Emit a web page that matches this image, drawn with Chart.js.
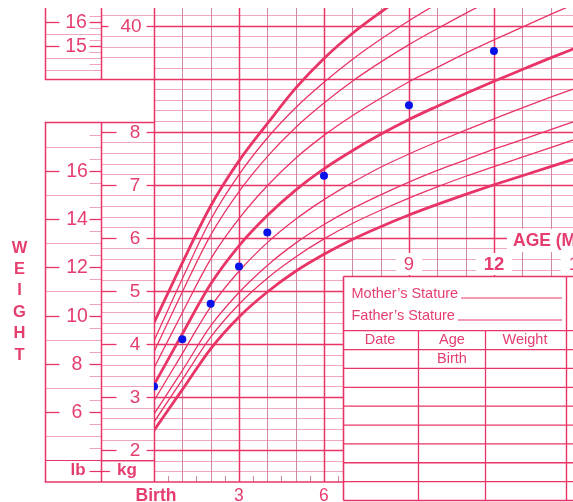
<!DOCTYPE html>
<html>
<head>
<meta charset="utf-8">
<title>Weight-for-age percentiles</title>
<script src="https://cdn.jsdelivr.net/npm/chart.js@4.4.1/dist/chart.umd.min.js"></script>
<style>
html,body{margin:0;padding:0;background:#ffffff;overflow:hidden;}
#wrap{width:573px;height:502px;position:relative;}
canvas{display:block;}
</style>
</head>
<body>
<div id="wrap"><canvas id="chart" width="573" height="502"></canvas></div>
<script>
// ---------------- data ----------------
const ageMonths = [0,1,2,3,4,5,6,7,8,9,10,11,12,13,14,15];
const p2  = [2.37,3.14,3.91,4.51,4.98,5.37,5.69,5.97,6.21,6.43,6.63,6.82,7.00,7.17,7.34,7.51];
const p5  = [2.53,3.33,4.13,4.75,5.24,5.64,5.98,6.27,6.52,6.75,6.96,7.16,7.34,7.52,7.70,7.88];
const p10 = [2.68,3.50,4.34,4.97,5.48,5.90,6.25,6.55,6.81,7.05,7.27,7.47,7.67,7.85,8.04,8.22];
const p25 = [2.93,3.82,4.70,5.37,5.91,6.35,6.72,7.04,7.33,7.58,7.81,8.03,8.24,8.45,8.65,8.84];
const p50 = [3.23,4.19,5.13,5.85,6.42,6.90,7.30,7.64,7.95,8.23,8.48,8.72,8.95,9.17,9.39,9.60];
const p75 = [3.55,4.59,5.60,6.36,6.98,7.50,7.93,8.30,8.63,8.94,9.21,9.48,9.73,9.97,10.21,10.44];
const p90 = [3.85,4.98,6.05,6.87,7.53,8.08,8.54,8.95,9.31,9.64,9.94,10.23,10.50,10.76,11.02,11.28];
const p95 = [4.06,5.23,6.34,7.19,7.88,8.45,8.93,9.36,9.74,10.09,10.41,10.71,11.00,11.28,11.55,11.81];
const p98 = [4.40,5.53,6.60,7.45,8.15,8.82,9.38,9.85,10.25,10.62,10.96,11.28,11.59,11.89,12.18,12.46];
const childAge    = [0,1,2,3,4,6,9,12];
const childWeight = [3.20,4.09,4.76,5.46,6.10,7.17,8.50,9.52];

const kgTickLabels = [2,3,4,5,6,7,8];
const lbTickLabels = [6,8,10,12,14,16];
const cmTickLabels = [40];
const inTickLabels = [15,16];
const bottomAgeMonths = [0,3,6];
const bottomAgeLabels = ['Birth','3','6'];
const midAgeMonths = [9,12,15];
const midAgeLabels = ['9','12','15'];
const axisLetters = ['W','E','I','G','H','T'];
const ageTitle = 'AGE (MONTHS)';
const tableHeaders = ['Date','Age','Weight'];
const tableFirstRow = ['','Birth',''];
const statureLabels = ['Mother\u2019s Stature','Father\u2019s Stature'];

// ---------------- style ----------------
const PINK = 'rgb(232,52,102)';
const PINK_TEXT = 'rgb(229,62,110)';
const LIGHT = 'rgb(240,166,188)';
const MAUVE = 'rgb(208,136,164)';
const FONT = '"Liberation Sans", Arial, Helvetica, sans-serif';

function seg(ctx, x1, y1, x2, y2, color, w) {
  ctx.beginPath();
  ctx.strokeStyle = color;
  ctx.lineWidth = w;
  ctx.moveTo(x1, y1);
  ctx.lineTo(x2, y2);
  ctx.stroke();
}
function txt(ctx, s, x, y, size, bold, align, color) {
  ctx.font = (bold ? 'bold ' : '') + size + 'px ' + FONT;
  ctx.textAlign = align || 'center';
  ctx.textBaseline = 'middle';
  ctx.fillStyle = color || PINK_TEXT;
  ctx.fillText(s, x, y);
  return ctx.measureText(s).width;
}
const hp = v => Math.round(v) + 0.5;

const gridPlugin = {
  id: 'gridPlugin',
  beforeDraw(chart) {
    const ctx = chart.ctx;
    ctx.save();
    ctx.fillStyle = '#ffffff';
    ctx.fillRect(0, 0, chart.width, chart.height);
    ctx.restore();
  },
  beforeDatasetsDraw(chart) {
    const ctx = chart.ctx;
    const {left, right, top, bottom} = chart.chartArea;
    const xs = chart.scales.x, ys = chart.scales.y;
    ctx.save();
    for (let i = 8; i <= 51; i++) {
      if (i % 5 === 0) continue;
      const y = hp(ys.getPixelForValue(i / 5));
      seg(ctx, left, y, right, y, LIGHT, 1);
    }
    for (let m = 0; m <= Math.floor(xs.max); m++) {
      const x = hp(xs.getPixelForValue(m));
      const major = m % 3 === 0;
      seg(ctx, x, top, x, bottom, major ? PINK : MAUVE, major ? 1.5 : 1);
    }
    for (let m = 0; m < Math.floor(xs.max) + 1; m++) {
      const x = hp(xs.getPixelForValue(m + 0.5));
      if (x > right) break;
      seg(ctx, x, bottom - 6, x, bottom, MAUVE, 1);
    }
    for (let i = 10; i <= 50; i += 5) {
      const y = hp(ys.getPixelForValue(i / 5));
      seg(ctx, left, y, right, y, PINK, 1.4);
    }
    seg(ctx, left, hp(bottom) - 0.5, right, hp(bottom) - 0.5, PINK, 1.6);
    ctx.restore();
  },
  afterDraw(chart) {
    const ctx = chart.ctx;
    const {left, right, top, bottom} = chart.chartArea;
    const xs = chart.scales.x, ys = chart.scales.y;
    const yLb = chart.scales.yLb, yCm = chart.scales.yCm, yIn = chart.scales.yIn;
    const L0 = 45.5, L1 = 101.5, L2 = left;
    ctx.save();

    // ---------- upper (length) box ----------
    const upBot = hp(ys.getPixelForValue(9.0));
    for (let c = 37; c <= 41; c++) {
      const y = hp(yCm.getPixelForValue(c));
      if (cmTickLabels.includes(c)) {
        const w = txt(ctx, String(c), 131, y, 19, false);
        seg(ctx, L1, y, Math.min(116.5, 131 - w / 2 - 12), y, PINK, 1.3);
        seg(ctx, 146.5, y, L2, y, PINK, 1.3);
      } else {
        seg(ctx, L1, y, L2, y, LIGHT, 1);
      }
    }
    for (let q = 56; q <= 65; q++) {
      const v = q / 4;
      const y = hp(yIn.getPixelForValue(v));
      if (y >= upBot - 1) continue;
      if (q % 4 === 0 && inTickLabels.includes(v)) {
        txt(ctx, String(v), 76, y, 19.5, false);
        seg(ctx, L0, y, 59.5, y, PINK, 1.3);
        seg(ctx, 89.5, y, L1, y, PINK, 1.3);
      } else if (q % 2 === 0) {
        seg(ctx, L0, y, L1, y, LIGHT, 1);
      } else {
        seg(ctx, 89.5, y, L1, y, LIGHT, 1);
      }
    }
    seg(ctx, L0, top, L0, upBot, PINK, 1.5);
    seg(ctx, L1, top, L1, upBot, PINK, 1.5);
    seg(ctx, L0 - 0.75, upBot, L2, upBot, PINK, 1.6);

    // ---------- lower (weight) box ----------
    const lowTop = hp(ys.getPixelForValue(8.2)) + 1;
    for (let i = 8; i <= 40; i++) {
      const v = i / 5;
      const y = hp(ys.getPixelForValue(v));
      if (i % 5 === 0 && kgTickLabels.includes(v)) {
        const w = txt(ctx, String(v), 135, y, 19, false);
        seg(ctx, L1, y, Math.min(116.5, 135 - w / 2 - 12), y, PINK, 1.3);
        seg(ctx, 146.5, y, L2, y, PINK, 1.3);
      } else if (i >= 9) {
        seg(ctx, L1, y, L2, y, LIGHT, 1);
      }
    }
    for (let h = 9; h <= 35; h++) {
      const v = h / 2;
      const y = hp(yLb.getPixelForValue(v));
      if (h % 2 === 0) {
        if (v % 2 === 0 && lbTickLabels.includes(v)) {
          txt(ctx, String(v), 77, y, 19.5, false);
          seg(ctx, L0, y, 59.5, y, PINK, 1.3);
          seg(ctx, 89.5, y, L1, y, PINK, 1.3);
        } else {
          seg(ctx, L0, y, L1, y, LIGHT, 1);
        }
      } else {
        seg(ctx, 89.5, y, L1, y, LIGHT, 1);
      }
    }
    const sepY = hp(yLb.getPixelForValue(4));
    seg(ctx, L0, sepY, L2, sepY, PINK, 1.2);
    const unitY = ys.getPixelForValue(1.6);
    txt(ctx, 'lb', 78, unitY - 1, 17, true);
    seg(ctx, 89.5, hp(unitY), L1, hp(unitY), PINK, 1.2);
    txt(ctx, 'kg', 127, unitY - 1, 17, true);
    seg(ctx, L1, hp(unitY), 110, hp(unitY), PINK, 1.2);
    seg(ctx, L0 - 0.75, lowTop, L2, lowTop, PINK, 1.6);
    seg(ctx, L0, lowTop, L0, bottom, PINK, 1.5);
    seg(ctx, L1, lowTop, L1, bottom, PINK, 1.5);
    seg(ctx, L0 - 0.75, hp(bottom) - 0.5, L2, hp(bottom) - 0.5, PINK, 1.6);

    // ---------- WEIGHT ----------
    axisLetters.forEach((ch, k) => txt(ctx, ch, 19.5, 248 + k * 21.4, 16.5, true));

    // ---------- age labels ----------
    bottomAgeMonths.forEach((m, k) => {
      const x = xs.getPixelForValue(m) + (m === 0 ? 2 : 0);
      txt(ctx, bottomAgeLabels[k], x, 496, 17.5, m === 0);
    });
    const midY = 264;
    midAgeMonths.forEach((m, k) => {
      const x = xs.getPixelForValue(m);
      const bold = m % 12 === 0;
      ctx.font = (bold ? 'bold ' : '') + '18.5px ' + FONT;
      const w = ctx.measureText(midAgeLabels[k]).width;
      ctx.fillStyle = '#ffffff';
      ctx.fillRect(x - w / 2 - 8, midY - 11, w + 16, 22);
      txt(ctx, midAgeLabels[k], x, midY + 1, 18.5, bold);
    });
    ctx.fillStyle = '#ffffff';
    ctx.fillRect(507, 229, 80, 23);
    txt(ctx, ageTitle, 513, 241, 17.5, true, 'left');

    // ---------- record table ----------
    const tX0 = 343.5, tX1 = 580, tY0 = 276.5, tY1 = 500.5;
    ctx.fillStyle = '#ffffff';
    ctx.fillRect(tX0, tY0, tX1 - tX0, chart.height - tY0);
    seg(ctx, tX0, tY0, tX1, tY0, PINK, 1.6);
    seg(ctx, tX0, tY0, tX0, tY1, PINK, 1.6);
    seg(ctx, tX0, tY1, tX1, tY1, PINK, 1.6);
    seg(ctx, 566.5, tY0, 566.5, tY1, PINK, 1.4);
    const hdrTop = 330.7;
    const rowH = (tY1 - hdrTop) / 9;
    for (let k = 0; k < 9; k++) {
      const y = hdrTop + k * rowH;
      seg(ctx, tX0, y, tX1, y, PINK, 1.3);
    }
    [418.5, 485.5].forEach(x => seg(ctx, x, hdrTop, x, tY1, PINK, 1.3));
    const colCenters = [380, 452, 525];
    tableHeaders.forEach((h, k) => txt(ctx, h, colCenters[k], hdrTop + rowH / 2, 14.5, false));
    tableFirstRow.forEach((h, k) => { if (h) txt(ctx, h, colCenters[k], hdrTop + rowH * 1.5, 14.5, false); });
    const statY = [293.5, 315.5];
    statureLabels.forEach((s, k) => {
      const w = txt(ctx, s, 351.5, statY[k], 14.5, false, 'left');
      const uy = statY[k] + 4.5;
      seg(ctx, 351.5 + w + 3, uy, 562, uy, PINK, 1);
    });

    ctx.restore();
  }
};

const thickIdx = [0, 4, 8];
const curves = [p2, p5, p10, p25, p50, p75, p90, p95, p98];
const curveNames = ['2nd','5th','10th','25th','50th','75th','90th','95th','98th'];
const datasets = curves.map((arr, i) => ({
  type: 'line',
  label: curveNames[i],
  data: ageMonths.map((m, j) => ({x: m, y: arr[j]})),
  borderColor: PINK,
  borderWidth: thickIdx.includes(i) ? 2.8 : 1.3,
  pointRadius: 0,
  fill: false,
  cubicInterpolationMode: 'monotone',
  clip: 0,
  order: 2
}));
datasets.push({
  type: 'scatter',
  label: 'Child',
  data: childAge.map((a, i) => ({x: a, y: childWeight[i]})),
  pointRadius: 4,
  pointBackgroundColor: 'rgb(8,18,232)',
  pointBorderWidth: 0,
  order: 0
});

new Chart(document.getElementById('chart'), {
  type: 'line',
  data: {datasets},
  plugins: [gridPlugin],
  options: {
    responsive: false,
    animation: false,
    events: [],
    devicePixelRatio: 1,
    layout: {autoPadding: false, padding: {left: 154, top: 8, right: 0, bottom: 20}},
    plugins: {legend: {display: false}, tooltip: {enabled: false}, title: {display: false}},
    scales: {
      x: {type: 'linear', display: false, min: 0, max: 14.79},
      y: {type: 'linear', display: false, min: 1.4, max: 10.33},
      yLb: {type: 'linear', display: false, min: 1.4 * 2.20462, max: 10.33 * 2.20462},
      yCm: {type: 'linear', display: false, min: -3, max: 41.65},
      yIn: {type: 'linear', display: false, min: -3.179, max: 16.571}
    }
  }
});
</script>
</body>
</html>
